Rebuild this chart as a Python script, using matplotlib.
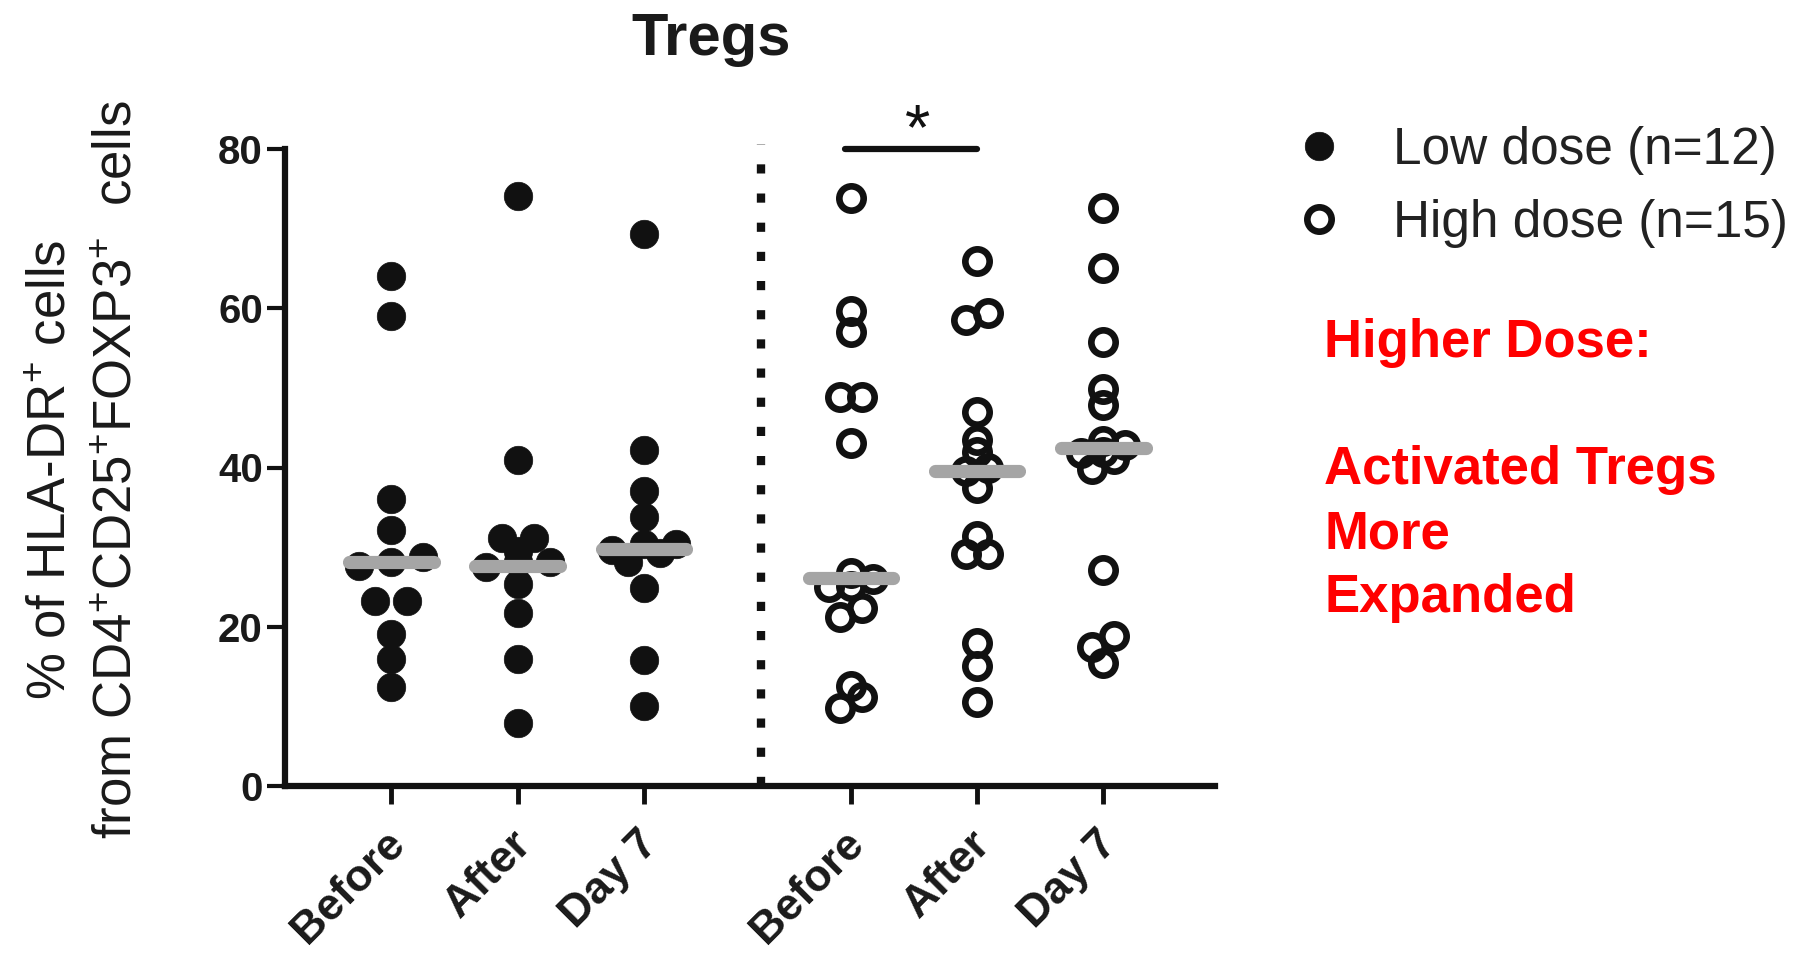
import matplotlib
matplotlib.use('Agg')
import matplotlib.pyplot as plt
from matplotlib.lines import Line2D
from matplotlib import font_manager
from matplotlib.transforms import ScaledTranslation

plt.rcParams['font.family'] = ['Liberation Sans', 'DejaVu Sans']
plt.rcParams['mathtext.fontset'] = 'custom'
plt.rcParams['mathtext.rm'] = 'Liberation Sans'
plt.rcParams['mathtext.default'] = 'regular'

# ---------------- data ----------------
categories = ["Before", "After", "Day 7"]
low_before = [64.1, 59.0, 36.0, 32.2, 28.7, 28.1, 27.6, 23.2, 23.2, 19.1, 15.9, 12.4]
low_after = [74.1, 41.0, 31.1, 31.1, 29.5, 28.1, 28.1, 27.5, 25.4, 21.7, 15.9, 7.9]
low_day7 = [69.3, 42.2, 37.0, 33.8, 30.4, 30.4, 29.6, 29.2, 28.1, 24.9, 15.8, 10.1]
high_before = [73.9, 59.6, 57.0, 48.9, 48.9, 43.1, 26.8, 26.0, 25.1, 25.0, 22.3, 21.2, 12.6, 11.2, 9.8]
high_after = [65.9, 59.4, 58.5, 47.0, 43.5, 41.9, 40.0, 39.5, 37.4, 31.4, 29.1, 29.1, 17.9, 15.1, 10.6]
high_day7 = [72.6, 65.0, 55.7, 49.9, 47.9, 43.3, 42.8, 42.0, 41.8, 41.1, 39.8, 27.1, 18.9, 17.5, 15.5]
low_medians = [28.1, 27.6, 29.8]
high_medians = [26.1, 39.5, 42.4]
yticks = [0, 20, 40, 60, 80]
legend_labels = ["Low dose (n=12)", "High dose (n=15)"]
note_lines = ["Higher Dose:", "", "Activated Tregs", "More", "Expanded"]
title = "Tregs"
ylabel_lines = [r"% of HLA-DR$^{+}$ cells",
                r"from CD4$^{+}$CD25$^{+}$FOXP3$^{+}$  cells"]

# ---------------- layout ----------------
W, H = 1800, 959
fig = plt.figure(figsize=(W / 100, H / 100), dpi=100)
ax = fig.add_axes([285 / W, 1 - 786 / H, (1214.6 - 285) / W, (786 - 149) / H])
ax.set_xlim(-0.843, 6.517)
ax.set_ylim(0, 80)

group_gap = 0.637
low_x = [0, 1, 2]
high_x = [i + 3 + group_gap for i in range(3)]

ink = '#111111'
grey = '#a5a5a5'

def scatter_x(values, xc, row_h, step_px, max_row=3):
    """GraphPad-like column scatter: near-equal values share a centred row."""
    px_per_unit = ax.transData.transform((1, 0))[0] - ax.transData.transform((0, 0))[0]
    step = step_px / px_per_unit
    order = sorted(range(len(values)), key=lambda i: values[i])
    rows, cur, start = [], [], None
    for i in order:
        if cur and values[i] - start < row_h and len(cur) < max_row:
            cur.append(i)
        else:
            if cur:
                rows.append(cur)
            cur, start = [i], values[i]
    rows.append(cur)
    xs = [xc] * len(values)
    for row in rows:
        n = len(row)
        for j, i in enumerate(row):
            xs[i] = xc + (j - (n - 1) / 2) * step
    return xs

filled_kw = dict(ls='none', marker='o', ms=20.5, mfc=ink, mec=ink, mew=0.5)
open_kw = dict(ls='none', marker='o', ms=17.5, mfc='none', mec=ink, mew=4.8)

for xc, vals in zip(low_x, [low_before, low_after, low_day7]):
    ax.plot(scatter_x(vals, xc, 1.5, 32), vals, clip_on=False, zorder=3, **filled_kw)
for xc, vals in zip(high_x, [high_before, high_after, high_day7]):
    ax.plot(scatter_x(vals, xc, 1.5, 22), vals, clip_on=False, zorder=3, **open_kw)

# median bars
half = 0.335
for xc, m in zip(low_x + high_x, low_medians + high_medians):
    ax.plot([xc - half, xc + half], [m, m], color=grey, lw=9.5,
            solid_capstyle='round', zorder=4)

# dotted separator
ax.plot([2.926, 2.926], [0, 80.6], color=ink, lw=6, dashes=(1.1, 2.4),
        clip_on=False, zorder=2)

# significance bar
ax.plot([high_x[0] - 0.05, high_x[1]], [80, 80], color=ink, lw=4.5,
        solid_capstyle='round', clip_on=False)
ax.text((high_x[0] + high_x[1]) / 2 + 0.03, 82.1, '*', ha='center', va='center',
        fontsize=47, color=ink, clip_on=False)

# axes styling
for s in ['top', 'right']:
    ax.spines[s].set_visible(False)
for s in ['left', 'bottom']:
    ax.spines[s].set_linewidth(4.5)
    ax.spines[s].set_color(ink)
ax.spines['left'].set_bounds(0, 80)

ax.set_yticks(yticks)
ax.set_yticklabels([str(t) for t in yticks], fontsize=29, fontweight='bold', color='#1a1a1a')
ax.tick_params(axis='y', length=13, width=3, pad=3, color=ink)

ax.set_xticks(low_x + high_x)
ax.set_xticklabels(categories * 2, rotation=45, ha='right', va='center',
                   rotation_mode='anchor', fontsize=32, fontweight='bold', color='#1a1a1a')
ax.tick_params(axis='x', length=13, width=3.5, pad=24, color=ink)
shift = ScaledTranslation(7 / 100, 0, fig.dpi_scale_trans)
for lbl in ax.get_xticklabels():
    lbl.set_transform(lbl.get_transform() + shift)

# title
fig.text(711 / W, 1 - 55 / H, title, ha='center', va='baseline', fontsize=43,
         fontweight='bold', color='#1a1a1a')

# y label (two lines), condensed face if available
names = {f.name for f in font_manager.fontManager.ttflist}
if 'Liberation Sans Narrow' in names:
    yl_family, yl_size = ['Liberation Sans Narrow', 'DejaVu Sans'], 43
else:
    yl_family, yl_size = ['Liberation Sans', 'DejaVu Sans'], 38
for xpx, txt in zip([52, 118], ylabel_lines):
    fig.text(xpx / W, 1 - 470 / H, txt, rotation=90, ha='center', va='center',
             fontsize=yl_size, family=yl_family, color='#1a1a1a')

# legend
handles = [Line2D([], [], **filled_kw), Line2D([], [], **open_kw)]
fig.legend(handles, legend_labels, loc='center left',
           bbox_to_anchor=(1293.5 / W, 1 - 187 / H), frameon=False, fontsize=37,
           handlelength=1.0, handletextpad=0.93, labelspacing=0.46,
           borderpad=0, borderaxespad=0, labelcolor='#222222', numpoints=1)

# red note
for i, line in enumerate(note_lines):
    if line:
        fig.text(1324 / W, 1 - (357 + i * 63.7) / H, line, ha='left', va='baseline',
                 fontsize=38, fontweight='bold', color='#ff0000')

fig.savefig('out.png', dpi=100, facecolor='white')
